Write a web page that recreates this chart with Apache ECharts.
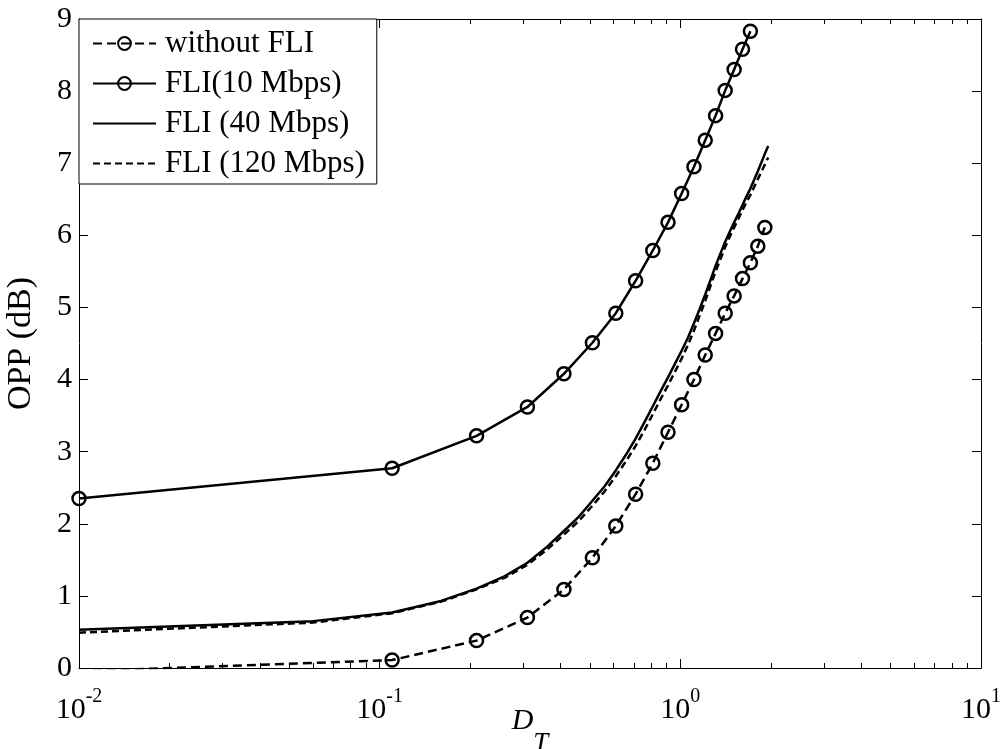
<!DOCTYPE html>
<html>
<head>
<meta charset="utf-8">
<script src="https://cdn.jsdelivr.net/npm/echarts@6/dist/echarts.min.js"></script>
<style>
html,body{margin:0;padding:0;background:#fff;}
#chart{width:1005px;height:749px;}
</style>
</head>
<body>
<div id="chart"></div>
<script>
// ---- data ----
const seriesNames = ['without FLI', 'FLI(10 Mbps)', 'FLI (40 Mbps)', 'FLI (120 Mbps)'];

const xCoarse = [0.01,0.11,0.21,0.31,0.41,0.51,0.61,0.71,0.81,0.91,1.01,1.11,1.21,1.31,1.41,1.51,1.61,1.71,1.81,1.91];
const withoutFLI = [-0.045,0.11,0.38,0.70,1.09,1.53,1.97,2.41,2.84,3.27,3.65,4.00,4.34,4.64,4.92,5.16,5.40,5.62,5.85,6.11];

const x10 = [0.01,0.11,0.21,0.31,0.41,0.51,0.61,0.71,0.81,0.91,1.01,1.11,1.21,1.31,1.41,1.51,1.61,1.71];
const fli10 = [2.35,2.77,3.22,3.62,4.08,4.51,4.92,5.37,5.79,6.18,6.58,6.95,7.32,7.66,8.01,8.30,8.58,8.83];

const xFine = [0.01,0.06,0.11,0.16,0.21,0.26,0.31,0.36,0.41,0.46,0.51,0.56,0.61,0.66,0.71,0.76,0.81,0.86,0.91,0.96,
               1.01,1.06,1.11,1.16,1.21,1.26,1.31,1.36,1.41,1.46,1.51,1.56,1.61,1.66,1.71,1.76,1.81,1.86,1.91,1.96];
const fli40 = [0.53,0.65,0.77,0.93,1.10,1.27,1.46,1.68,1.90,2.10,2.32,2.52,2.74,2.96,3.18,3.41,3.63,3.84,4.03,4.22,
               4.40,4.58,4.78,4.98,5.18,5.38,5.58,5.75,5.91,6.05,6.18,6.30,6.42,6.54,6.65,6.77,6.89,7.01,7.13,7.24];
const fli120 = [0.49,0.63,0.76,0.92,1.09,1.25,1.43,1.64,1.85,2.04,2.25,2.45,2.66,2.87,3.08,3.30,3.52,3.73,3.92,4.11,
                4.29,4.48,4.68,4.89,5.09,5.30,5.50,5.67,5.84,5.98,6.11,6.23,6.35,6.46,6.56,6.67,6.78,6.88,6.98,7.08];

const xMajorTicks = [0.01, 0.1, 1, 10];
const xMinorTicks = [0.02,0.03,0.04,0.05,0.06,0.07,0.08,0.09,
                     0.2,0.3,0.4,0.5,0.6,0.7,0.8,0.9,
                     2,3,4,5,6,7,8,9];
const xExponents = {0.01:'-2', 0.1:'-1', 1:'0', 10:'1'};

// ---- chart ----
const FONT = 'Liberation Serif';
const BLACK = '#000';
const pair = (xs, ys) => xs.map((x, i) => [x, ys[i]]);

const chart = echarts.init(document.getElementById('chart'), null, {renderer: 'canvas'});

const logAxisBase = {
  type: 'log', logBase: 10, min: 0.01, max: 10,
  splitLine: {show: false}, minorTick: {show: false}
};

const option = {
  backgroundColor: '#fff',
  animation: false,
  grid: {left: 79, right: 24, top: 19, bottom: 81, containLabel: false, outerBoundsMode: 'none'},
  legend: {
    orient: 'vertical', left: 79, top: 19,
    padding: [9, 12, 5, 13],
    itemWidth: 63, itemHeight: 16, itemGap: 9,
    backgroundColor: '#fff', borderColor: BLACK, borderWidth: 1, borderRadius: 0,
    textStyle: {fontFamily: FONT, fontSize: 31, color: BLACK, padding: [0, 0, 0, 4]},
    data: [
      {name: seriesNames[0]},
      {name: seriesNames[1]},
      {name: seriesNames[2], itemStyle: {opacity: 0}},
      {name: seriesNames[3], itemStyle: {opacity: 0}}
    ]
  },
  xAxis: [
    Object.assign({}, logAxisBase, {
      position: 'bottom',
      axisLine: {show: true, lineStyle: {color: BLACK, width: 1}},
      axisTick: {show: true, inside: true, length: 9, customValues: xMajorTicks, lineStyle: {color: BLACK}},
      axisLabel: {
        show: true, customValues: xMajorTicks, margin: 19,
        formatter: v => '{b|10}{s|' + xExponents[v] + '}',
        rich: {
          b: {fontFamily: FONT, fontSize: 30, color: BLACK, lineHeight: 46},
          s: {fontFamily: FONT, fontSize: 20, color: BLACK, verticalAlign: 'top'}
        }
      },
      name: '{d|D}{t|T}', nameLocation: 'middle', nameGap: 17, nameMoveOverlap: false,
      nameTextStyle: {
        rich: {
          d: {fontFamily: FONT, fontSize: 30, fontStyle: 'italic', color: BLACK, lineHeight: 72},
          t: {fontFamily: FONT, fontSize: 27, fontStyle: 'italic', color: BLACK, verticalAlign: 'bottom'}
        }
      }
    }),
    Object.assign({}, logAxisBase, {
      position: 'bottom',
      axisLine: {show: false},
      axisTick: {show: true, inside: true, length: 5, customValues: xMinorTicks, lineStyle: {color: BLACK}},
      axisLabel: {show: false}
    }),
    Object.assign({}, logAxisBase, {
      position: 'top',
      axisLine: {show: true, lineStyle: {color: BLACK, width: 1}},
      axisTick: {show: true, inside: true, length: 9, customValues: xMajorTicks, lineStyle: {color: BLACK}},
      axisLabel: {show: false}
    }),
    Object.assign({}, logAxisBase, {
      position: 'top',
      axisLine: {show: false},
      axisTick: {show: true, inside: true, length: 5, customValues: xMinorTicks, lineStyle: {color: BLACK}},
      axisLabel: {show: false}
    })
  ],
  yAxis: [
    {
      type: 'value', min: 0, max: 9, interval: 1, position: 'left',
      axisLine: {show: true, lineStyle: {color: BLACK, width: 1}},
      axisTick: {show: true, inside: true, length: 9, lineStyle: {color: BLACK}},
      axisLabel: {show: true, margin: 7, fontFamily: FONT, fontSize: 30, color: BLACK},
      splitLine: {show: false},
      name: 'OPP (dB)', nameLocation: 'middle', nameGap: 41, nameRotate: 90, nameMoveOverlap: false,
      nameTextStyle: {fontFamily: FONT, fontSize: 34, color: BLACK}
    },
    {
      type: 'value', min: 0, max: 9, interval: 1, position: 'right',
      axisLine: {show: true, lineStyle: {color: BLACK, width: 1}},
      axisTick: {show: true, inside: true, length: 9, lineStyle: {color: BLACK}},
      axisLabel: {show: false},
      splitLine: {show: false}
    }
  ],
  series: [
    {
      name: seriesNames[0], type: 'line', xAxisIndex: 0, yAxisIndex: 0,
      data: pair(xCoarse, withoutFLI),
      symbol: 'circle', symbolSize: 13, showAllSymbol: true, clip: true,
      lineStyle: {color: BLACK, width: 2.5, type: [9, 5]},
      itemStyle: {color: 'rgba(255,255,255,0)', borderColor: BLACK, borderWidth: 2.5}
    },
    {
      name: seriesNames[1], type: 'line', xAxisIndex: 0, yAxisIndex: 0,
      data: pair(x10, fli10),
      symbol: 'circle', symbolSize: 13, showAllSymbol: true, clip: true,
      lineStyle: {color: BLACK, width: 2.5, type: 'solid'},
      itemStyle: {color: 'rgba(255,255,255,0)', borderColor: BLACK, borderWidth: 2.5}
    },
    {
      name: seriesNames[2], type: 'line', xAxisIndex: 0, yAxisIndex: 0,
      data: pair(xFine, fli40),
      symbol: 'none', clip: true,
      lineStyle: {color: BLACK, width: 2.5, type: 'solid'},
      itemStyle: {color: BLACK}
    },
    {
      name: seriesNames[3], type: 'line', xAxisIndex: 0, yAxisIndex: 0,
      data: pair(xFine, fli120),
      symbol: 'none', clip: true,
      lineStyle: {color: BLACK, width: 2.5, type: [7, 4]},
      itemStyle: {color: BLACK}
    }
  ]
};
chart.setOption(option);
</script>
</body>
</html>
